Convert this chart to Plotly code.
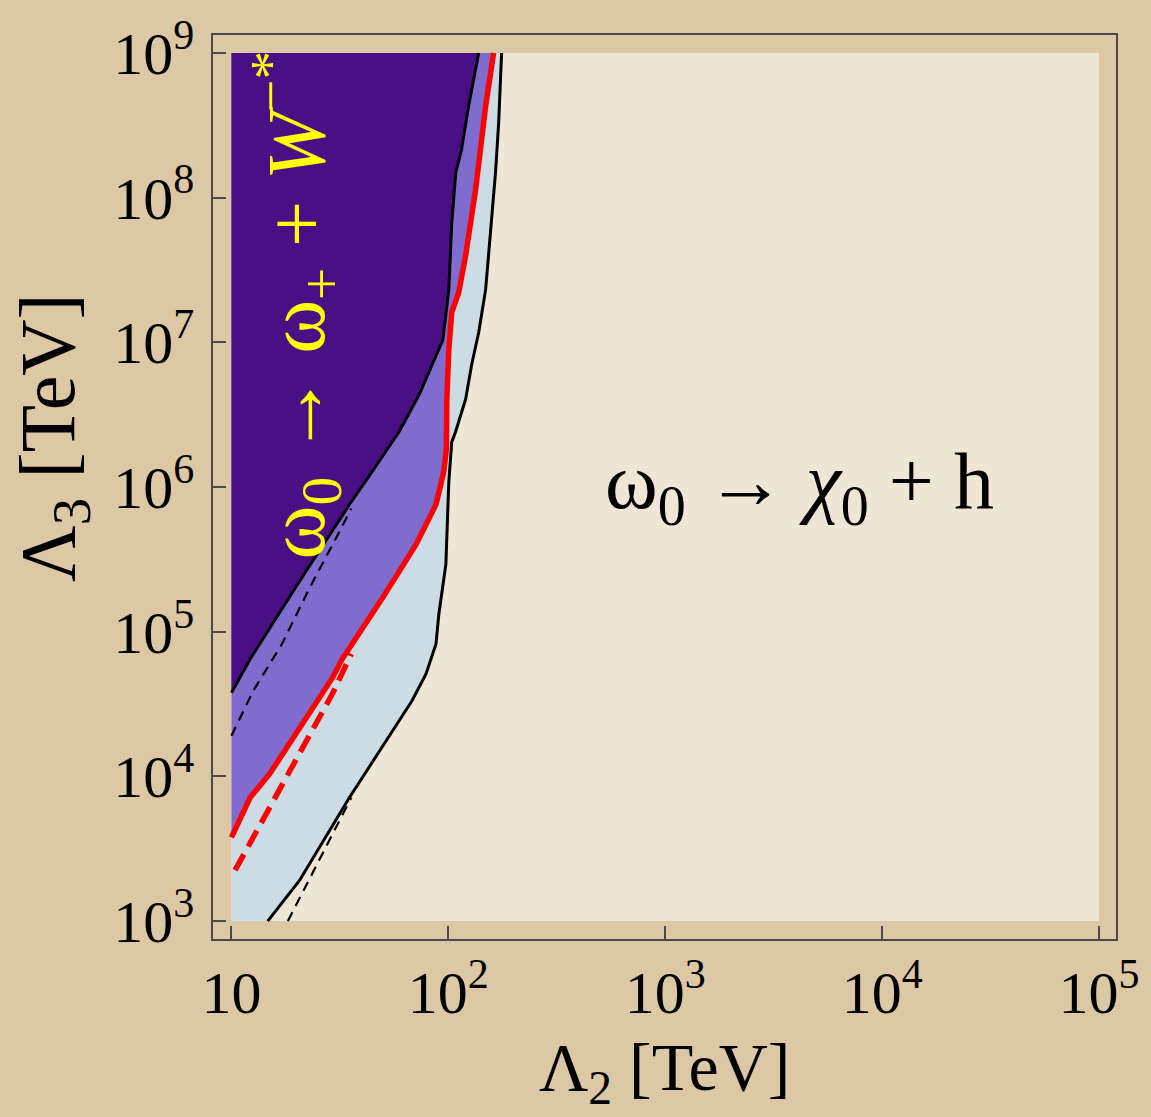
import plotly.graph_objects as go

# ---------------- data (Λ2 [TeV], Λ3 [TeV]) ----------------
# upper black boundary (dark purple | medium purple)
b1_x = [10, 12.2, 20.6, 35.0, 44.6, 59.3, 73.3, 84.0, 94.4, 100.5, 103.7, 108.2, 115, 124, 138]
b1_y = [3.78e4, 6.47e4, 2.23e5, 7.57e5, 1.28e6, 2.41e6, 4.33e6, 6.97e6, 1.04e7, 2.32e7, 6.73e7, 1.49e8, 2.14e8, 4.30e8, 1e9]

# red solid boundary (medium purple | light blue)
red_x = [10, 12.2, 15.0, 20.6, 29.2, 32.4, 49.6, 71.0, 78.9, 87.7, 95.3, 98.0, 98.4, 100.5, 103.7, 111.7, 120.2, 133.6, 148.6, 161.7]
red_y = [3.79e3, 7.14e3, 1.04e4, 2.17e4, 4.79e4, 6.47e4, 1.70e5, 4.01e5, 5.51e5, 7.57e5, 1.28e6, 1.84e6, 4.06e6, 8.98e6, 1.61e7, 2.22e7, 3.99e7, 1.14e8, 4.30e8, 1e9]

# red dashed line
redd_x = [10.4, 16.2, 20.6, 29.2, 35.7]
redd_y = [2.25e3, 7.62e3, 1.44e4, 3.72e4, 7.02e4]

# upper black dashed line
bd1_x = [10, 12.6, 17.1, 22.9, 31.5, 35.7]
bd1_y = [1.91e4, 3.90e4, 8.22e4, 2.00e5, 4.93e5, 7.10e5]

# outer black boundary (light blue | beige)
out_x = [14.7, 20.6, 35.0, 51.6, 68.0, 78.9, 87.7, 90.4, 95.3, 97.4, 100.5, 103.7, 108, 120.2, 128, 138, 148.6, 165, 170.6, 176]
out_y = [1e3, 1.91e3, 7.14e3, 1.77e4, 3.33e4, 5.11e4, 8.22e4, 1.32e5, 2.23e5, 2.92e5, 1.09e6, 2.05e6, 2.41e6, 4.06e6, 6.97e6, 1.17e7, 2.32e7, 1.49e8, 3.29e8, 1e9]

# lower black dashed line
bd2_x = [18.2, 35.7]
bd2_y = [1e3, 7.14e3]

# plot domain
x_min, x_max = 10, 1e5
y_min, y_max = 1e3, 1e9

x_ticks = [10, 1e2, 1e3, 1e4, 1e5]
x_ticktext = ["10", "10<sup>2</sup>", "10<sup>3</sup>", "10<sup>4</sup>", "10<sup>5</sup>"]
y_ticks = [1e3, 1e4, 1e5, 1e6, 1e7, 1e8, 1e9]
y_ticktext = ["10<sup>%d</sup>" % k for k in range(3, 10)]

# ---------------- colours ----------------
BG = "#DDC8A6"
BEIGE = "#F0E6D5"
LIGHT = "#CDDCE4"
MID = "#806BCF"
DARK = "#4A0F85"
RED = "#FF0000"
FONT = "Liberation Serif"

fig = go.Figure()

# beige domain
fig.add_trace(go.Scatter(x=[x_min, x_max, x_max, x_min, x_min],
                         y=[y_min, y_min, y_max, y_max, y_min],
                         fill="toself", fillcolor=BEIGE, mode="none", hoverinfo="skip"))
# light blue region
fig.add_trace(go.Scatter(x=[x_min] + out_x + [x_min, x_min],
                         y=[y_min] + out_y + [y_max, y_min],
                         fill="toself", fillcolor=LIGHT, mode="none", hoverinfo="skip"))
# medium purple region
fig.add_trace(go.Scatter(x=red_x + [x_min, red_x[0]],
                         y=red_y + [y_max, red_y[0]],
                         fill="toself", fillcolor=MID, mode="none", hoverinfo="skip"))
# dark purple region
fig.add_trace(go.Scatter(x=b1_x + [x_min, b1_x[0]],
                         y=b1_y + [y_max, b1_y[0]],
                         fill="toself", fillcolor=DARK, mode="none", hoverinfo="skip"))

# lines
fig.add_trace(go.Scatter(x=out_x, y=out_y, mode="lines", line=dict(color="black", width=3)))
fig.add_trace(go.Scatter(x=b1_x, y=b1_y, mode="lines", line=dict(color="black", width=3)))
fig.add_trace(go.Scatter(x=bd1_x, y=bd1_y, mode="lines", line=dict(color="black", width=2.2, dash="10px,7px")))
fig.add_trace(go.Scatter(x=bd2_x, y=bd2_y, mode="lines", line=dict(color="black", width=2.2, dash="10px,7px")))
fig.add_trace(go.Scatter(x=red_x, y=red_y, mode="lines", line=dict(color=RED, width=5.5)))
fig.add_trace(go.Scatter(x=redd_x, y=redd_y, mode="lines", line=dict(color=RED, width=5.5, dash="18px,9px")))

axis_common = dict(type="log", showgrid=False, zeroline=False, showline=True, mirror=True,
                   linecolor="#4a4a4a", linewidth=1.5, ticks="inside", ticklen=13,
                   tickcolor="#4a4a4a", tickwidth=1.5)

fig.update_layout(
    width=1151, height=1117, autosize=False,
    margin=dict(l=213, r=30, t=33, b=178),
    paper_bgcolor=BG, plot_bgcolor=BG,
    showlegend=False,
    font=dict(family=FONT, color="black"),
    xaxis=dict(range=[0.915, 5.078], tickvals=x_ticks, ticktext=x_ticktext,
               tickfont=dict(family=FONT, size=60, color="black"), **axis_common),
    yaxis=dict(range=[2.876, 9.124], tickvals=y_ticks, ticktext=y_ticktext,
               tickfont=dict(family=FONT, size=60, color="black"), ticklabelstandoff=5,
               **axis_common),
    annotations=[
        dict(text="ω<sub>0</sub> → <i>χ</i><sub>0</sub> + h", xref="paper", yref="paper",
             x=0.650, y=0.500, xanchor="center", yanchor="middle", showarrow=False,
             font=dict(family=FONT, size=80, color="black")),
        dict(text="ω<sub>0</sub> → ω<sub>+</sub> + <i>W</i><sup>−*</sup>",
             xref="paper", yref="paper",
             x=0.0926, y=0.7014, xanchor="center", yanchor="middle", showarrow=False, textangle=-90,
             font=dict(family=FONT, size=82, color="#FFFF00")),
        dict(text="Λ<sub>2</sub> [TeV]", xref="paper", yref="paper",
             x=0.5, y=-0.147, xanchor="center", yanchor="middle", showarrow=False,
             font=dict(family=FONT, size=68, color="black")),
        dict(text="Λ<sub>3</sub> [TeV]", xref="paper", yref="paper",
             x=-0.1775, y=0.554, xanchor="center", yanchor="middle", showarrow=False, textangle=-90,
             font=dict(family=FONT, size=78, color="black")),
    ],
)

fig.write_html("out.html")
